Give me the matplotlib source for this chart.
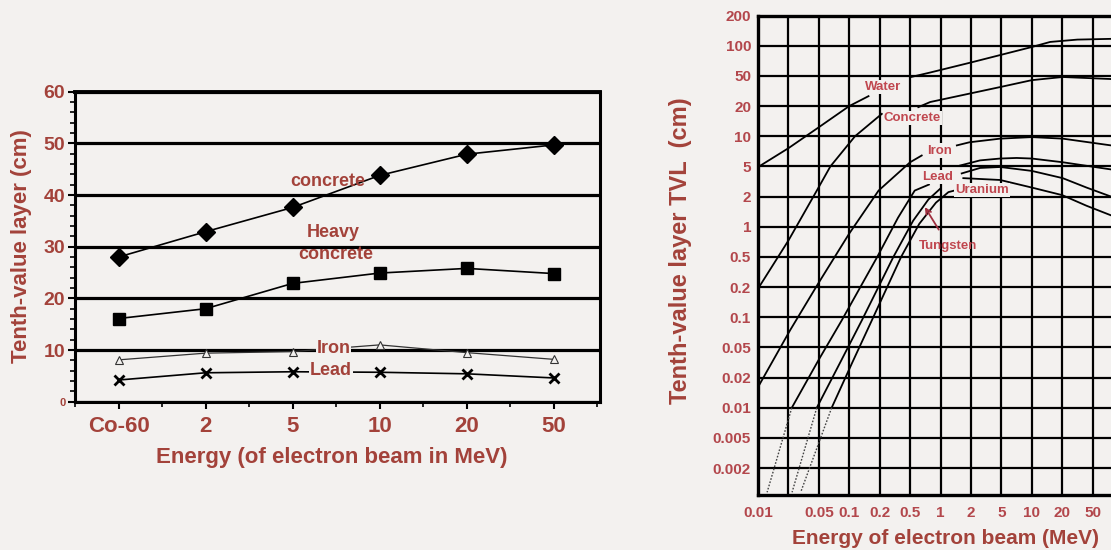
import numpy as np
import matplotlib
matplotlib.use('Agg')
import matplotlib.pyplot as plt
from matplotlib.ticker import MultipleLocator

plt.rcParams['font.family'] = ['Liberation Sans', 'DejaVu Sans']
plt.rcParams['font.weight'] = 'bold'

bg = '#f3f1ef'
red = '#a3423a'
pink = '#b3474c'

# ---- left chart data (TVL in cm) ----
energies = ['Co-60', '2', '5', '10', '20', '50']
concrete = [28.0, 32.9, 37.6, 43.8, 47.9, 49.7]
heavy_concrete = [16.1, 18.0, 22.9, 24.9, 25.8, 24.8]
iron = [8.1, 9.4, 9.7, 11.0, 9.5, 8.2]
lead = [4.2, 5.6, 5.8, 5.7, 5.4, 4.6]

# ---- right chart data (energy MeV, TVL cm) ----
x_grid = [0.01, 0.02, 0.05, 0.1, 0.2, 0.5, 1, 2, 5, 10, 20, 50]
x_labels = ['0.01', '', '0.05', '0.1', '0.2', '0.5', '1', '2', '5', '10', '20', '50']
y_grid = [0.002, 0.005, 0.01, 0.02, 0.05, 0.1, 0.2, 0.5, 1, 2, 5, 10, 20, 50, 100, 200]
y_labels = ['0.002', '0.005', '0.01', '0.02', '0.05', '0.1', '0.2', '0.5',
            '1', '2', '5', '10', '20', '50', '100', '200']

water_mev = [0.01, 0.02, 0.05, 0.1, 0.155]
water_tvl = [4.9, 7.6, 12.3, 20, 27]
water2_mev = [0.5, 0.79, 2, 10, 15.2, 31.6, 76]
water2_tvl = [48, 54, 68, 97, 109, 115, 117]

concrete_mev = [0.01, 0.02, 0.047, 0.065, 0.114, 0.213]
concrete_tvl = [0.193, 0.73, 2.4, 5, 10, 16.7]
concrete2_mev = [0.603, 0.79, 4.82, 10, 20.3, 76]
concrete2_tvl = [19.5, 22.6, 35.6, 43.9, 48.3, 45.4]

iron_mev = [0.01, 0.021, 0.049, 0.0997, 0.195, 0.5, 0.651]
iron_tvl = [0.0161, 0.0742, 0.223, 0.853, 2.4, 5.5, 6.42]
iron2_mev = [1.45, 1.93, 4.82, 10, 20.3, 76]
iron2_tvl = [8.1, 8.7, 9.46, 9.8, 9.46, 8.1]

lead_mev = [0.0221, 0.05, 0.0841, 0.189, 0.347, 0.555, 0.768]
lead_tvl = [0.01, 0.0347, 0.093, 0.5, 1.23, 2.4, 2.88]
tungsten_mev = [0.0469, 0.0812, 0.133, 0.302, 0.536, 0.758, 0.993]
tungsten_tvl = [0.01, 0.0316, 0.093, 0.5, 1.15, 1.87, 2.54]
uranium_mev = [0.0669, 0.107, 0.167, 0.381, 0.616, 0.901, 1.197, 1.37]
uranium_tvl = [0.01, 0.0316, 0.093, 0.5, 1.07, 1.74, 2.29, 2.4]

plateau1_mev = [1.56, 2.63, 4.82, 7.07, 10, 20.3, 76]
plateau1_tvl = [5.1, 5.74, 5.99, 6.07, 5.99, 5.5, 4.56]
plateau2_mev = [1.62, 2.63, 4.82, 10, 20.3, 41.6, 76]
plateau2_tvl = [4.04, 4.77, 4.91, 4.36, 3.5, 2.63, 2.0]
plateau3_mev = [1.68, 4.82, 10, 20, 41.6, 76]
plateau3_tvl = [3.5, 3.31, 2.63, 2.09, 1.62, 1.3]

dots_mev = [[0.0221, 0.0123], [0.0469, 0.0223], [0.0669, 0.0289]]
dots_tvl = [[0.01, 0.00115], [0.01, 0.00115], [0.01, 0.00115]]


def grid_scale(vals):
    # equally spaced 1-2-5 grid, log-interpolated between grid lines
    lv = np.log10(vals)
    pos = np.arange(len(vals), dtype=float)

    def fwd(v):
        v = np.asarray(v, dtype=float)
        ok = v > 0
        lvv = np.log10(np.where(ok, v, 1.0))
        return np.where(ok, np.interp(lvv, lv, pos), np.nan)

    def inv(p):
        return 10 ** np.interp(p, pos, lv)
    return fwd, inv


fig = plt.figure(figsize=(11.11, 5.5), dpi=100, facecolor=bg)

# ================= left chart =================
ax1 = fig.add_axes([0.0675, 0.2696, 0.4725, 0.5637], facecolor=bg)
xi = np.arange(len(energies))
ax1.yaxis.grid(True, color='black', lw=2.3)
ax1.set_axisbelow(True)
ax1.plot(xi, concrete, color='black', lw=1.2, marker='D', ms=9, zorder=3)
ax1.plot(xi, heavy_concrete, color='black', lw=1.2, marker='s', ms=8, zorder=3)
ax1.plot(xi, iron, color='#333333', lw=0.9, marker='^', ms=6, mfc=bg, mew=0.8, zorder=3)
ax1.plot(xi, lead, color='black', lw=1.2, marker='x', ms=7, mew=2, zorder=3)

ax1.set_xlim(-0.5, 5.53)
ax1.set_ylim(0, 60)
ax1.set_xticks(xi, energies)
ax1.set_xticks(np.arange(-0.5, 6, 1), minor=True)
ax1.set_yticks(range(0, 61, 10))
ax1.yaxis.set_minor_locator(MultipleLocator(2))
ax1.tick_params(axis='both', which='major', direction='out', length=5, width=1.5,
                colors='black', labelcolor=red)
ax1.tick_params(axis='both', which='minor', direction='out', length=3.5, width=1.2)
ax1.tick_params(axis='x', labelsize=16, pad=5)
ax1.tick_params(axis='y', labelsize=14, pad=2)
ax1.get_yticklabels()[0].set_fontsize(8)
for s in ax1.spines.values():
    s.set_linewidth(2.2)
ax1.spines['top'].set_linewidth(2.8)

for txt, x, y in [('concrete', 2.4, 42.6), ('Heavy', 2.47, 32.7),
                  ('concrete', 2.49, 28.4), ('Iron', 2.47, 10.3), ('Lead', 2.44, 6.0)]:
    ax1.text(x, y, txt, color=red, fontsize=13, ha='center', va='center', zorder=4,
             bbox=dict(facecolor=bg, edgecolor='none', pad=0.5) if txt in ('Iron', 'Lead') else None)

fig.text(332 / 1111, 1 - 457 / 550, 'Energy (of electron beam in MeV)', color=red,
         fontsize=16, ha='center', va='center')
fig.text(22 / 1111, 1 - 246 / 550, 'Tenth-value layer (cm)', color=red, fontsize=16,
         ha='center', va='center', rotation=90)

# ================= right chart =================
ax2 = fig.add_axes([0.6823, 0.1, 0.3177, 0.8718], facecolor=bg)
ax2.set_xscale('function', functions=grid_scale([0.005] + x_grid + [100, 200]))
ax2.set_yscale('function', functions=grid_scale([0.001] + y_grid + [500]))
ax2.set_xlim(0.01, 76)
ax2.set_ylim(0.00108, 200)
ax2.set_xticks(x_grid, x_labels)
ax2.set_yticks(y_grid, y_labels)
ax2.grid(True, color='black', lw=1.6)
ax2.set_axisbelow(True)
ax2.tick_params(length=0, labelcolor=pink, labelsize=11)
ax2.tick_params(axis='x', pad=8)
ax2.tick_params(axis='y', pad=5)
ax2.xaxis.set_minor_locator(plt.NullLocator())
ax2.yaxis.set_minor_locator(plt.NullLocator())
for s in ax2.spines.values():
    s.set_linewidth(2.4)
ax2.spines['right'].set_visible(False)

lw = 1.3
for m, t in [(water_mev, water_tvl), (water2_mev, water2_tvl),
             (concrete_mev, concrete_tvl), (concrete2_mev, concrete2_tvl),
             (iron_mev, iron_tvl), (iron2_mev, iron2_tvl),
             (lead_mev, lead_tvl), (tungsten_mev, tungsten_tvl), (uranium_mev, uranium_tvl),
             (plateau1_mev, plateau1_tvl), (plateau2_mev, plateau2_tvl),
             (plateau3_mev, plateau3_tvl)]:
    ax2.plot(m, t, color='black', lw=lw, zorder=3)
for m, t in zip(dots_mev, dots_tvl):
    ax2.plot(m, t, color='#444444', lw=1.0, ls=(0, (1.2, 1.2)), zorder=3)

lab = dict(color='#c0474f', fontsize=9.5, ha='center', va='center', zorder=4,
           bbox=dict(facecolor=bg, edgecolor='none', pad=0.8))
ax2.text(0.221, 35.6, 'Water', **lab)
ax2.text(0.525, 15.3, 'Concrete', **lab)
ax2.text(0.98, 7.2, 'Iron', **lab)
ax2.text(0.94, 3.6, 'Lead', **lab)
ax2.text(2.78, 2.47, 'Uranium', **lab)
ax2.annotate('Tungsten', xy=(0.70, 1.57), xytext=(1.2, 0.65), zorder=4,
             color='#c0474f', fontsize=9.5, ha='center', va='center',
             arrowprops=dict(arrowstyle='->', color='#a03040', lw=1.3, shrinkA=6, shrinkB=0))

fig.text(945.7 / 1111, 1 - 538 / 550, 'Energy of electron beam (MeV)', color=red,
         fontsize=15, ha='center', va='center')
fig.text(681 / 1111, 1 - 251 / 550, 'Tenth-value layer TVL  (cm)', color=red,
         fontsize=17, ha='center', va='center', rotation=90)

fig.savefig('out.png', dpi=100, facecolor=bg)
